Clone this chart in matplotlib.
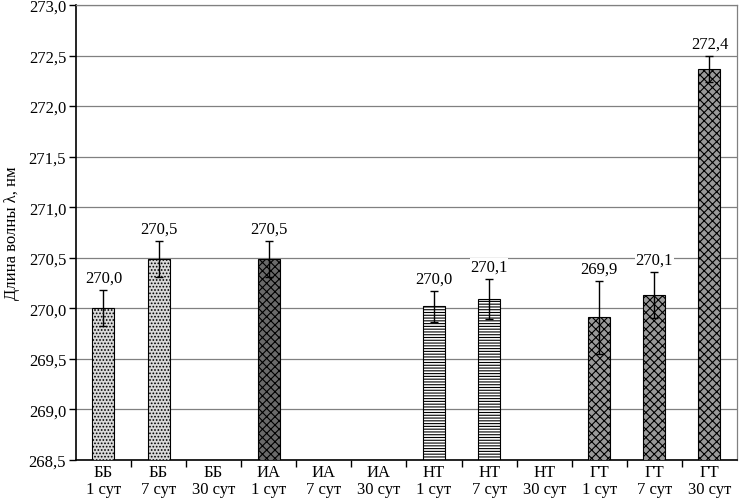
import numpy as np
import matplotlib
matplotlib.use('Agg')
import matplotlib.pyplot as plt

plt.rcParams['font.family'] = ['Liberation Serif', 'DejaVu Serif']
plt.rcParams['hatch.linewidth'] = 0.8

groups = ['ББ', 'ББ', 'ББ', 'ИА', 'ИА', 'ИА', 'НТ', 'НТ', 'НТ', 'ГТ', 'ГТ', 'ГТ']
days = ['1 сут', '7 сут', '30 сут'] * 4
values = [270.0, 270.49, None, 270.49, None, None, 270.02, 270.09, None, 269.91, 270.13, 272.37]
errors = [0.18, 0.18, None, 0.18, None, None, 0.155, 0.2, None, 0.36, 0.23, 0.13]
labels = ['270,0', '270,5', '', '270,5', '', '', '270,0', '270,1', '', '269,9', '270,1', '272,4']

styles = {
    'ББ': dict(facecolor='#d9d9d9', hatch='.....'),
    'ИА': dict(facecolor='#6a6a6a', hatch='xxxx'),
    'НТ': dict(facecolor='white', hatch='------'),
    'ГТ': dict(facecolor='#9a9a9a', hatch='xxxx'),
}

ymin = 268.5
fig = plt.figure(figsize=(7.44, 5.02), dpi=100)
ax = fig.add_axes([0.102, 0.082, 0.8886, 0.906])

x = np.arange(len(groups))
for i, (g, v, e, lab) in enumerate(zip(groups, values, errors, labels)):
    if v is None:
        continue
    st = styles[g]
    ax.bar(i, v - ymin, bottom=ymin, width=0.4, facecolor=st['facecolor'],
           hatch=st['hatch'], edgecolor='black', linewidth=0.8, zorder=3)
    ax.errorbar(i, v, yerr=e, fmt='none', ecolor='black', elinewidth=1.0,
                capsize=3, capthick=1.0, zorder=4)
    ax.text(i, v + e + 0.04, lab, ha='center', va='bottom', fontsize=12,
            zorder=5, bbox=dict(facecolor='white', edgecolor='none', pad=0.5))

ax.set_xlim(-0.5, len(groups) - 0.5)
ax.set_ylim(268.5, 273.0)
yt = np.arange(268.5, 273.01, 0.5)
ax.set_yticks(yt)
ax.set_yticklabels([f'{t:.1f}'.replace('.', ',') for t in yt], fontsize=12)
ax.yaxis.grid(True, color='#808080', linewidth=0.9, zorder=0)
ax.set_axisbelow(True)

ax.set_xticks(x)
ax.set_xticklabels([f'{g}\n{d}' for g, d in zip(groups, days)], fontsize=12,
                   linespacing=1.1)
ax.tick_params(axis='x', which='major', length=0, pad=3)
ax.set_xticks(np.arange(0.5, len(groups) - 0.5, 1.0), minor=True)
ax.tick_params(axis='x', which='minor', length=5, width=1, direction='out')
ax.tick_params(axis='y', length=5, width=1, direction='out', pad=2)

ax.set_ylabel('Длина волны λ, нм', fontsize=12, labelpad=6)

for side in ['top', 'right']:
    ax.spines[side].set_color('#808080')
    ax.spines[side].set_linewidth(0.9)
ax.spines['left'].set_linewidth(1.2)
ax.spines['bottom'].set_linewidth(1.2)

fig.savefig('out.png', dpi=100)
